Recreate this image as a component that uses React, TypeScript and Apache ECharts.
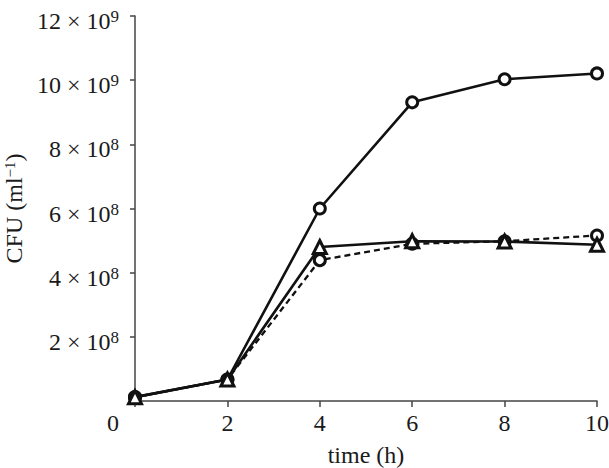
import React, { useEffect, useRef } from "react";
import * as echarts from "echarts";

const timeH = [0, 2, 4, 6, 8, 10];
const solidCircleCFU = [0.12e8, 0.67e8, 6.0e8, 9.31e8, 10.03e8, 10.21e8];
const solidTriangleCFU = [0.12e8, 0.67e8, 4.8e8, 4.98e8, 4.97e8, 4.87e8];
const dashedCircleCFU = [0.12e8, 0.67e8, 4.39e8, 4.9e8, 4.98e8, 5.16e8];

const FONT = "'Liberation Serif', 'Times New Roman', serif";
const TEXT = "#1a1a1a";
const AXIS = "#444";

const pairs = (ys: number[]) => timeH.map((t, i) => [t, ys[i]]);

export default function App() {
  const ref = useRef<HTMLDivElement>(null);
  useEffect(() => {
    if (!ref.current) return;
    const chart = echarts.init(ref.current, undefined, { renderer: "svg" });
    const lineBase = {
      type: "line" as const,
      symbolSize: 11,
      itemStyle: { color: "#fff", borderColor: "#111", borderWidth: 3 },
      emphasis: { disabled: true },
    };
    chart.setOption({
      animation: false,
      backgroundColor: "#fff",
      grid: {
        left: 135,
        right: 12,
        top: 16,
        bottom: 67,
        containLabel: false,
        outerBoundsMode: "none",
      },
      xAxis: {
        type: "value",
        min: 0,
        max: 10,
        interval: 2,
        name: "time (h)",
        nameLocation: "middle",
        nameGap: 42,
        nameTextStyle: { fontFamily: FONT, fontSize: 24, color: TEXT },
        axisLine: { show: true, lineStyle: { color: AXIS, width: 1.5 } },
        axisTick: { show: true, inside: false, length: 6, lineStyle: { color: AXIS, width: 1.5 } },
        splitLine: { show: false },
        axisLabel: {
          margin: 10,
          fontFamily: FONT,
          fontSize: 24,
          color: TEXT,
          formatter: (v: number) => (v === 0 ? "{z|0}" : String(v)),
          rich: { z: { fontFamily: FONT, fontSize: 24, color: TEXT, padding: [0, 44, 0, 0] } },
        },
      },
      yAxis: {
        type: "value",
        min: 0,
        max: 12e8,
        interval: 2e8,
        name: "CFU (ml{s|−1})",
        nameLocation: "middle",
        nameGap: 82,
        nameTextStyle: {
          fontFamily: FONT,
          fontSize: 24,
          color: TEXT,
          rich: {
            s: { fontFamily: FONT, fontSize: 15, color: TEXT, verticalAlign: "top", lineHeight: 16 },
          },
        },
        axisLine: { show: true, lineStyle: { color: AXIS, width: 1.5 } },
        axisTick: { show: true, inside: false, length: 5, lineStyle: { color: AXIS, width: 1.5 } },
        splitLine: { show: false },
        axisLabel: {
          margin: 16,
          padding: [10, 0, 0, 0],
          formatter: (v: number) => {
            if (v === 0) return "";
            const n = Math.round(v / 1e8);
            const exp = n >= 10 ? 9 : 8;
            return `{b|${n} × 10}{s|${exp}}`;
          },
          rich: {
            b: { fontFamily: FONT, fontSize: 24, color: TEXT, lineHeight: 26 },
            s: { fontFamily: FONT, fontSize: 17, color: TEXT, verticalAlign: "top", lineHeight: 16 },
          },
        },
      },
      series: [
        {
          ...lineBase,
          name: "dashed",
          data: pairs(dashedCircleCFU),
          symbol: "circle",
          lineStyle: { color: "#111", width: 2.3, type: [6, 4] },
          z: 2,
        },
        {
          ...lineBase,
          name: "circles",
          data: pairs(solidCircleCFU),
          symbol: "circle",
          lineStyle: { color: "#111", width: 2.6 },
          z: 3,
        },
        {
          ...lineBase,
          name: "triangles",
          data: pairs(solidTriangleCFU),
          symbol: "triangle",
          symbolSize: 13,
          lineStyle: { color: "#111", width: 2.6 },
          z: 4,
        },
      ],
    });
    return () => chart.dispose();
  }, []);
  return <div ref={ref} style={{ width: 609, height: 468, position: "absolute", left: 0, top: 0 }} />;
}
